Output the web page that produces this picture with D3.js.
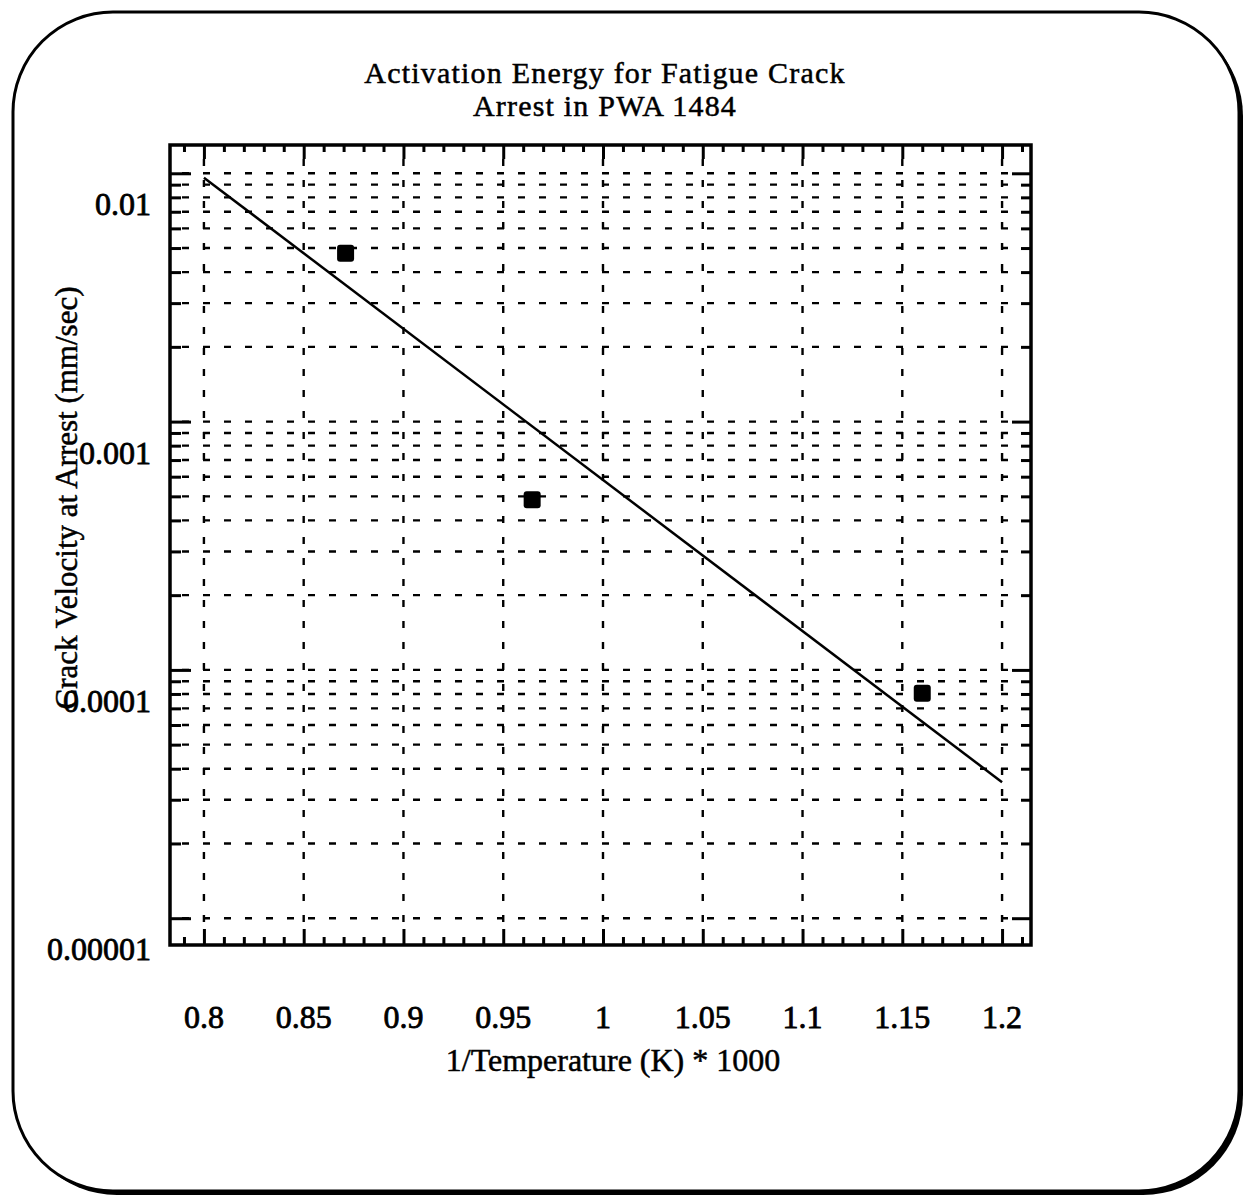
<!DOCTYPE html>
<html>
<head>
<meta charset="utf-8">
<script src="https://cdn.jsdelivr.net/npm/d3@7"></script>
<style>
  body { margin: 0; background: #fff; }
  svg text { font-family: "Liberation Serif", "Times New Roman", serif; fill: #000; }
  .grid line { stroke: #000; stroke-width: 2.4; stroke-dasharray: 7 14; }
</style>
</head>
<body>
<div id="chart"></div>
<script>
// data
var tempInv = [0.871, 0.9645, 1.16];          // 1/T (K) * 1000
var velocity = [0.00476, 0.000485, 0.0000805]; // mm/sec
var fitX = [0.8, 1.2];
var fitY = [0.0096, 0.0000353];
var xTicks = [0.8, 0.85, 0.9, 0.95, 1, 1.05, 1.1, 1.15, 1.2];
var yTicks = [0.01, 0.001, 0.0001, 0.00001];
var yLabels = ["0.01", "0.001", "0.0001", "0.00001"];

var W = 1243, H = 1196;
var plot = { left: 170, right: 1031, top: 145, bottom: 945 };

var svg = d3.select('#chart')
    .append('svg')
    .attr('width', W)
    .attr('height', H);

// rounded frame with a drop shadow
svg.append('rect')
    .attr('x', 17).attr('y', 16)
    .attr('width', 1226).attr('height', 1179)
    .attr('rx', 100).attr('ry', 100)
    .attr('fill', '#000');
svg.append('rect')
    .attr('x', 13).attr('y', 12)
    .attr('width', 1226).attr('height', 1179)
    .attr('rx', 100).attr('ry', 100)
    .attr('fill', '#fff')
    .attr('stroke', '#000')
    .attr('stroke-width', 3);

var xScale = d3.scaleLinear()
    .domain([0.783, 1.2145])
    .range([plot.left, plot.right]);

var yScale = d3.scaleLog()
    .domain([0.013, 0.0000078])
    .range([plot.top, plot.bottom]);

// minor values
var xMinor = d3.range(79, 122).map(function (d) { return d / 100; });
var yMinor = [];
[-5, -4, -3, -2].forEach(function (e) {
    for (var k = 1; k <= 9; k++) {
        var v = k * Math.pow(10, e);
        if (v <= 0.013 && v >= 0.0000078) yMinor.push(v);
    }
});

// dotted grid
var grid = svg.append('g').attr('class', 'grid');
grid.selectAll('.gx')
    .data(xTicks)
    .enter()
    .append('line')
    .attr('x1', function (d) { return xScale(d); })
    .attr('x2', function (d) { return xScale(d); })
    .attr('y1', plot.top + 14)
    .attr('y2', plot.bottom - 16);
grid.selectAll('.gy')
    .data(yMinor)
    .enter()
    .append('line')
    .attr('x1', plot.left + 12)
    .attr('x2', plot.right - 12)
    .attr('y1', function (d) { return yScale(d); })
    .attr('y2', function (d) { return yScale(d); });

// axes: ticks on all four sides, pointing inward
function isDecade(v) {
    var l = Math.log10(v);
    return Math.abs(l - Math.round(l)) < 1e-9;
}
function isMajorX(v) {
    return xTicks.some(function (t) { return Math.abs(t - v) < 1e-9; });
}

var axes = svg.append('g').attr('stroke', '#000');

axes.append('g')
    .attr('transform', `translate(0,${plot.bottom})`)
    .call(d3.axisBottom(xScale).tickValues(xMinor).tickSizeInner(0).tickSizeOuter(0).tickFormat(''))
    .call(function (g) {
        g.select('.domain').remove();
        g.selectAll('.tick line')
            .attr('y2', function (d) { return isMajorX(d) ? -16 : -8; })
            .attr('stroke-width', 3);
    });
axes.append('g')
    .attr('transform', `translate(0,${plot.top})`)
    .call(d3.axisTop(xScale).tickValues(xMinor).tickSizeInner(0).tickSizeOuter(0).tickFormat(''))
    .call(function (g) {
        g.select('.domain').remove();
        g.selectAll('.tick line')
            .attr('y2', function (d) { return isMajorX(d) ? 14 : 7; })
            .attr('stroke-width', 3);
    });
axes.append('g')
    .attr('transform', `translate(${plot.left},0)`)
    .call(d3.axisLeft(yScale).tickValues(yMinor).tickSizeInner(0).tickSizeOuter(0).tickFormat(''))
    .call(function (g) {
        g.select('.domain').remove();
        g.selectAll('.tick line')
            .attr('x2', function (d) { return isDecade(d) ? 21 : 11; })
            .attr('stroke-width', 3);
    });
axes.append('g')
    .attr('transform', `translate(${plot.right},0)`)
    .call(d3.axisRight(yScale).tickValues(yMinor).tickSizeInner(0).tickSizeOuter(0).tickFormat(''))
    .call(function (g) {
        g.select('.domain').remove();
        g.selectAll('.tick line')
            .attr('x2', function (d) { return isDecade(d) ? -19 : -10; })
            .attr('stroke-width', 3);
    });

// plot box
svg.append('rect')
    .attr('x', plot.left)
    .attr('y', plot.top)
    .attr('width', plot.right - plot.left)
    .attr('height', plot.bottom - plot.top)
    .attr('fill', 'none')
    .attr('stroke', '#000')
    .attr('stroke-width', 3.5);

// tick labels
svg.append('g').selectAll('text')
    .data(xTicks)
    .enter()
    .append('text')
    .attr('x', function (d) { return xScale(d); })
    .attr('y', 1028)
    .attr('text-anchor', 'middle')
    .attr('font-size', 32)
    .attr('stroke', '#000')
    .attr('stroke-width', 0.8)
    .text(function (d) { return d3.format('')(d); });

svg.append('g').selectAll('text')
    .data(yTicks)
    .enter()
    .append('text')
    .attr('x', 151)
    .attr('y', function (d) { return yScale(d) + 42; })
    .attr('text-anchor', 'end')
    .attr('font-size', 32)
    .attr('stroke', '#000')
    .attr('stroke-width', 0.8)
    .text(function (d, i) { return yLabels[i]; });

// fit line
var line = d3.line()
    .x(function (d) { return xScale(d[0]); })
    .y(function (d) { return yScale(d[1]); });
svg.append('path')
    .datum(d3.zip(fitX, fitY))
    .attr('d', line)
    .attr('fill', 'none')
    .attr('stroke', '#000')
    .attr('stroke-width', 2.5);

// data points
svg.selectAll('.dot')
    .data(d3.zip(tempInv, velocity))
    .enter()
    .append('rect')
    .attr('class', 'dot')
    .attr('x', function (d) { return xScale(d[0]) - 8.5; })
    .attr('y', function (d) { return yScale(d[1]) - 8.5; })
    .attr('width', 17)
    .attr('height', 17)
    .attr('rx', 3)
    .attr('fill', '#000');

// titles
svg.append('text')
    .attr('x', 605)
    .attr('y', 83)
    .attr('text-anchor', 'middle')
    .attr('font-size', 30)
    .attr('letter-spacing', 1.2)
    .attr('stroke', '#000')
    .attr('stroke-width', 0.5)
    .text('Activation Energy for Fatigue Crack');
svg.append('text')
    .attr('x', 605)
    .attr('y', 116)
    .attr('text-anchor', 'middle')
    .attr('font-size', 30)
    .attr('letter-spacing', 1.2)
    .attr('stroke', '#000')
    .attr('stroke-width', 0.5)
    .text('Arrest in PWA 1484');

svg.append('text')
    .attr('x', 613)
    .attr('y', 1071)
    .attr('text-anchor', 'middle')
    .attr('font-size', 32)
    .attr('stroke', '#000')
    .attr('stroke-width', 0.5)
    .text('1/Temperature (K) * 1000');

svg.append('text')
    .attr('transform', 'translate(77,498) rotate(-90)')
    .attr('text-anchor', 'middle')
    .attr('font-size', 31)
    .attr('stroke', '#000')
    .attr('stroke-width', 0.5)
    .text('Crack Velocity at Arrest (mm/sec)');
</script>
</body>
</html>
